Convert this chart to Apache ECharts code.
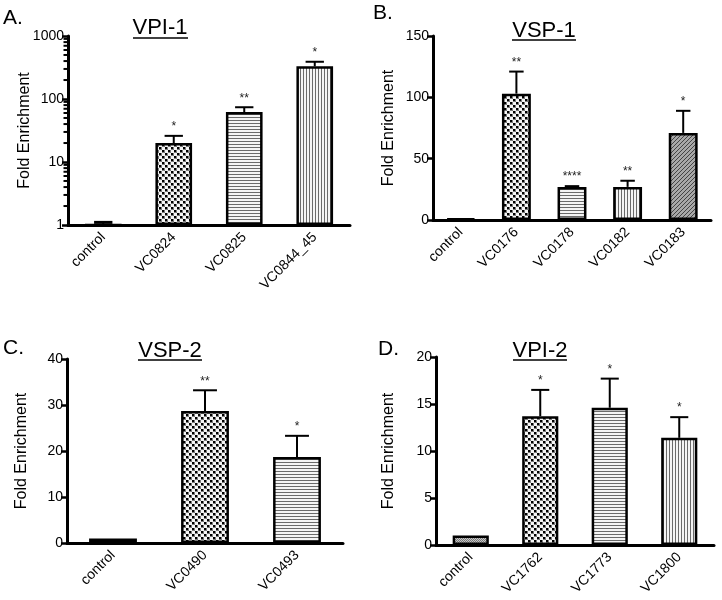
<!DOCTYPE html>
<html>
<head>
<meta charset="utf-8">
<script src="https://cdn.jsdelivr.net/npm/echarts@6/dist/echarts.min.js"></script>
<style>html,body{margin:0;padding:0;background:#fff}#c{width:722px;height:600px}</style>
</head>
<body>
<div id="c"></div>
<script>
// ---------- DATA ----------
const catsA = ['control', 'VC0824', 'VC0825', 'VC0844_45'];
const valsA = [1, 20, 62, 330];
const errA  = [1.1, 26, 74, 390];
const sigA  = ['', '*', '**', '*'];

const catsB = ['control', 'VC0176', 'VC0178', 'VC0182', 'VC0183'];
const valsB = [1.2, 103, 27, 27, 71];
const errB  = [1.2, 121, 27.6, 32, 89];
const sigB  = ['', '**', '****', '**', '*'];

const catsC = ['control', 'VC0490', 'VC0493'];
const valsC = [1, 28.7, 18.7];
const errC  = [1, 33.2, 23.3];
const sigC  = ['', '**', '*'];

const catsD = ['control', 'VC1762', 'VC1773', 'VC1800'];
const valsD = [1, 13.7, 14.6, 11.4];
const errD  = [1, 16.5, 17.7, 13.6];
const sigD  = ['', '*', '*', '*'];

const yTicksB = [0, 150, 50];   // min, max, interval
const yTicksC = [0, 40, 10];
const yTicksD = [0, 20, 5];
const minorTicksA = [2,3,4,5,6,7,8,9,20,30,40,50,60,70,80,90,200,300,400,500,600,700,800,900];

// ---------- PATTERNS (style) ----------
function mk(w, h, draw) {
  const c = document.createElement('canvas'); c.width = w; c.height = h;
  const g = c.getContext('2d'); draw(g); return { image: c, repeat: 'repeat' };
}
const PAT = {
  control: mk(2, 2, g => { g.fillStyle = '#c8c8c8'; g.fillRect(0,0,2,2); g.fillStyle = '#777'; g.fillRect(0,0,1,1); g.fillRect(1,1,1,1); }),
  checker: mk(6, 6, g => { g.fillStyle = '#f6f6f6'; g.fillRect(0,0,6,6); g.fillStyle = '#7a7a7a'; g.fillRect(0,0,3,3); g.fillRect(3,3,3,3); g.fillStyle = '#000'; g.fillRect(0,0,2,2); g.fillRect(3,3,2,2); }),
  hstripe: mk(4, 3, g => { g.fillStyle = '#f4f4f4'; g.fillRect(0,0,4,3); g.fillStyle = '#6a6a6a'; g.fillRect(0,0,4,1); }),
  vstripe: mk(3, 4, g => { g.fillStyle = '#f4f4f4'; g.fillRect(0,0,3,4); g.fillStyle = '#6a6a6a'; g.fillRect(0,0,1,4); }),
  diag: mk(4, 4, g => { g.fillStyle = '#a8a8a8'; g.fillRect(0,0,4,4); g.fillStyle = '#444'; for (let i = 0; i < 4; i++) g.fillRect(3 - i, i, 1, 1); })
};
const patA = ['control', 'checker', 'hstripe', 'vstripe'];
const patB = ['control', 'checker', 'hstripe', 'vstripe', 'diag'];
const patC = ['control', 'checker', 'hstripe'];
const patD = ['control', 'checker', 'hstripe', 'vstripe'];

const FONT = 'Liberation Sans, Arial, Helvetica, sans-serif';
const grids = [
  { left: 68, top: 36, width: 282, height: 189 },
  { left: 433, top: 36, width: 278, height: 184 },
  { left: 67, top: 359, width: 276, height: 184 },
  { left: 436, top: 357, width: 278, height: 188 }
];
const panels = [
  { cats: catsA, vals: valsA, err: errA, sig: sigA, pat: patA, log: true, nameGap: 35 },
  { cats: catsB, vals: valsB, err: errB, sig: sigB, pat: patB, ticks: yTicksB, nameGap: 36 },
  { cats: catsC, vals: valsC, err: errC, sig: sigC, pat: patC, ticks: yTicksC, nameGap: 37 },
  { cats: catsD, vals: valsD, err: errD, sig: sigD, pat: patD, ticks: yTicksD, nameGap: 39 }
];

const xAxis = [], yAxis = [], series = [];
panels.forEach((p, k) => {
  xAxis.push({
    type: 'category', gridIndex: k, data: p.cats,
    axisLine: { lineStyle: { color: '#000', width: 3 } },
    axisTick: { alignWithLabel: true, length: 6, lineStyle: { color: '#000', width: 2.5 } },
    axisLabel: { rotate: 45, color: '#000', fontSize: 14, fontFamily: FONT, margin: 10, interval: 0 },
    splitLine: { show: false }
  });
  const ya = {
    gridIndex: k, name: 'Fold Enrichment', nameLocation: 'middle', nameRotate: 90, nameGap: p.nameGap,
    nameMoveOverlap: false,
    nameTextStyle: { color: '#000', fontSize: 16, fontFamily: FONT },
    axisLine: { show: true, lineStyle: { color: '#000', width: 3 } },
    axisTick: { show: true, length: 6, lineStyle: { color: '#000', width: 2.5 } },
    axisLabel: { color: '#000', fontSize: 14, fontFamily: FONT, margin: 4, formatter: v => String(v) },
    splitLine: { show: false }
  };
  if (p.log) { Object.assign(ya, { type: 'log', logBase: 10, min: 1, max: 1000 }); }
  else { Object.assign(ya, { type: 'value', min: p.ticks[0], max: p.ticks[1], interval: p.ticks[2] }); }
  yAxis.push(ya);

  series.push({
    type: 'bar', xAxisIndex: k, yAxisIndex: k, barWidth: '52%',
    data: p.vals.map((v, i) => ({ value: v, itemStyle: { color: PAT[p.pat[i]] } })),
    itemStyle: { borderColor: '#000', borderWidth: 2.5 },
    z: 2, silent: true
  });
  series.push({
    type: 'custom', xAxisIndex: k, yAxisIndex: k, z: 3, clip: false, silent: true,
    data: p.vals.map((v, i) => [i, v, p.err[i]]),
    renderItem: (params, api) => {
      const i = api.value(0), v = api.value(1), e = api.value(2);
      const p0 = api.coord([i, v]), p1 = api.coord([i, e]);
      const bw = api.size([1, 0])[0] * 0.52, cap = bw * 0.5;
      const ch = [];
      if (e > v) {
        ch.push({ type: 'line', shape: { x1: p0[0], y1: p0[1], x2: p1[0], y2: p1[1] }, style: { stroke: '#000', lineWidth: 2 } });
        ch.push({ type: 'line', shape: { x1: p1[0] - cap / 2, y1: p1[1], x2: p1[0] + cap / 2, y2: p1[1] }, style: { stroke: '#000', lineWidth: e - v < 0.2 ? 3 : 2 } });
      }
      const s = p.sig[params.dataIndex];
      if (s) ch.push({ type: 'text', x: p1[0], y: p1[1] - 3, style: { text: s, fill: '#222', font: '12px ' + FONT, textAlign: 'center', textVerticalAlign: 'bottom' } });
      return { type: 'group', children: ch };
    }
  });
});

// minor log ticks for panel A
series.push({
  type: 'custom', xAxisIndex: 0, yAxisIndex: 0, z: 4, clip: false, silent: true,
  data: minorTicksA.map(v => [0, v]),
  renderItem: (params, api) => {
    const y = api.coord([0, api.value(1)])[1];
    const x = params.coordSys.x;
    return { type: 'line', shape: { x1: x - 4.5, y1: y, x2: x, y2: y }, style: { stroke: '#000', lineWidth: 2 } };
  }
});

function title(txt, cx, cy, x1, x2, uy) {
  return [
    { type: 'text', x: cx, y: cy, style: { text: txt, font: '22px ' + FONT, fill: '#000', textAlign: 'center', textVerticalAlign: 'middle' } },
    { type: 'line', shape: { x1: x1, y1: uy, x2: x2, y2: uy }, style: { stroke: '#000', lineWidth: 1.5 } }
  ];
}
function letter(txt, x, cy) {
  return { type: 'text', x: x, y: cy, style: { text: txt, font: '21px ' + FONT, fill: '#000', textAlign: 'left', textVerticalAlign: 'middle' } };
}
const graphic = [].concat(
  title('VPI-1', 160, 28, 133, 188, 38),
  title('VSP-1', 544, 31, 512, 576, 40),
  title('VSP-2', 170, 351, 138, 202, 360),
  title('VPI-2', 540, 351, 513, 567, 360),
  [letter('A.', 3, 18), letter('B.', 373, 13), letter('C.', 3, 348), letter('D.', 378, 349)]
);

const chart = echarts.init(document.getElementById('c'), null, { renderer: 'canvas' });
chart.setOption({
  animation: false, backgroundColor: '#fff',
  grid: grids, xAxis: xAxis, yAxis: yAxis, series: series, graphic: graphic
});
</script>
</body>
</html>
